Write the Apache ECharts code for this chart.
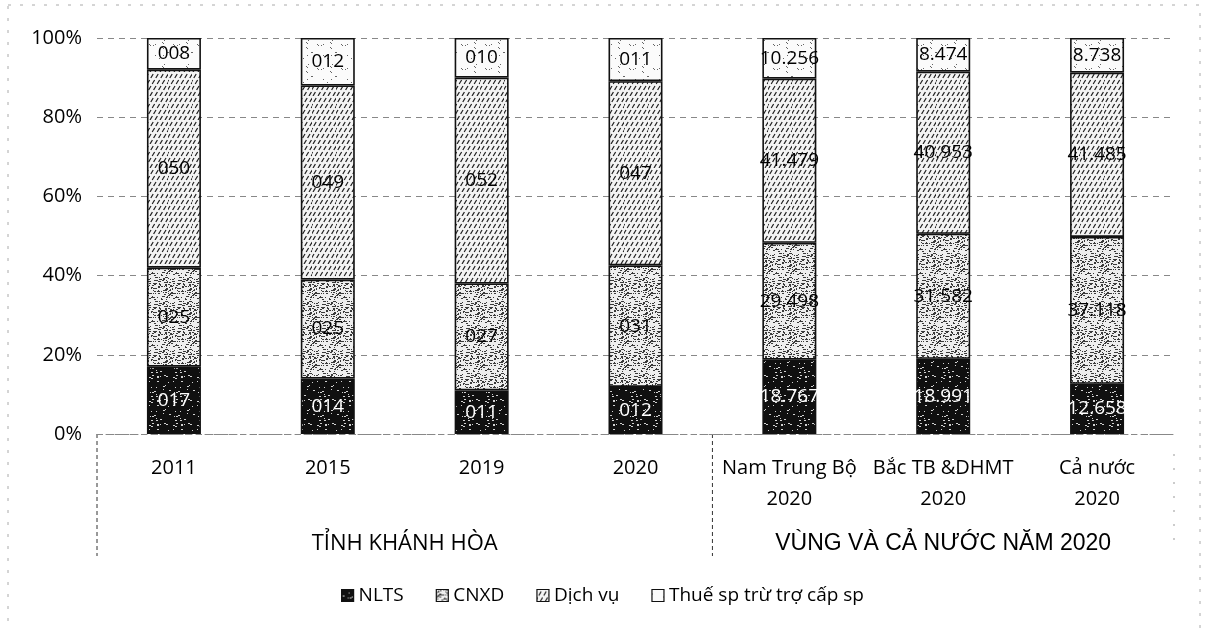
<!DOCTYPE html>
<html>
<head>
<meta charset="utf-8">
<script src="https://cdn.jsdelivr.net/npm/echarts@6/dist/echarts.min.js"></script>
<style>
  html, body { margin: 0; padding: 0; background: #fff; }
  #chart { width: 1205px; height: 629px; }
</style>
</head>
<body>
<div id="chart"></div>
<script>
const categories = ['2011', '2015', '2019', '2020', 'Nam Trung Bộ\n2020', 'Bắc TB &DHMT\n2020', 'Cả nước\n2020'];
const seriesNames = ['NLTS', 'CNXD', 'Dịch vụ', 'Thuế sp trừ trợ cấp sp'];

const nlts = [17, 14, 11, 12, 18.767, 18.991, 12.658];
const cnxd = [25, 25, 27, 31, 29.498, 31.582, 37.118];
const dichVu = [50, 49, 52, 47, 41.479, 40.953, 41.485];
const thue = [8, 12, 10, 11, 10.256, 8.474, 8.738];

const nltsLabels = ['017', '014', '011', '012', '18.767', '18.991', '12.658'];
const cnxdLabels = ['025', '025', '027', '031', '29.498', '31.582', '37.118'];
const dichVuLabels = ['050', '049', '052', '047', '41.479', '40.953', '41.485'];
const thueLabels = ['008', '012', '010', '011', '10.256', '8.474', '8.738'];

const groups = [
    { name: 'TỈNH KHÁNH HÒA', from: 0, to: 4 },
    { name: 'VÙNG VÀ CẢ NƯỚC NĂM 2020', from: 4, to: 7 }
];

const FONT = "'Open Sans', 'Noto Sans', sans-serif";

// simple seeded noise so the textures look the same each run
let seed = 7;
function rnd() {
    seed = (seed * 16807) % 2147483647;
    return seed / 2147483647;
}

function makePattern(kind) {
    const c = document.createElement('canvas');
    c.width = 24;
    c.height = 24;
    const g = c.getContext('2d');
    if (kind === 'dark') {
        g.fillStyle = '#101010';
        g.fillRect(0, 0, 24, 24);
        g.fillStyle = '#d0d0d0';
        for (let i = 0; i < 24; i++) g.fillRect(Math.floor(rnd() * 24), Math.floor(rnd() * 24), 1 + Math.floor(rnd() * 2), 1);
    } else if (kind === 'speckle') {
        g.fillStyle = '#eeeeee';
        g.fillRect(0, 0, 24, 24);
        g.fillStyle = '#3a3a3a';
        for (let i = 0; i < 120; i++) g.fillRect(Math.floor(rnd() * 24), Math.floor(rnd() * 24), 1 + Math.floor(rnd() * 2), 1);
    } else if (kind === 'hatch') {
        g.fillStyle = '#f4f4f4';
        g.fillRect(0, 0, 24, 24);
        g.strokeStyle = '#1e1e1e';
        g.lineWidth = 1.2;
        for (let k = -24; k < 48; k += 5) {
            for (let s = 0; s < 24; s += 6) {
                g.beginPath();
                g.moveTo(k + s * 0.6, 24 - s);
                g.lineTo(k + s * 0.6 + 2.4, 24 - s - 4);
                g.stroke();
            }
        }
    } else {
        g.fillStyle = '#fbfbfb';
        g.fillRect(0, 0, 24, 24);
        g.fillStyle = '#666';
        for (let i = 0; i < 14; i++) g.fillRect(Math.floor(rnd() * 24), Math.floor(rnd() * 24), 1, 1);
    }
    return { image: c, repeat: 'repeat' };
}

const valueLists = [nlts, cnxd, dichVu, thue];
const labelLists = [nltsLabels, cnxdLabels, dichVuLabels, thueLabels];
const patterns = [makePattern('dark'), makePattern('speckle'), makePattern('hatch'), makePattern('light')];

const totals = categories.map((_, i) => valueLists.reduce((s, arr) => s + arr[i], 0));

const series = seriesNames.map((name, si) => ({
    name: name,
    type: 'bar',
    stack: 'total',
    barWidth: 54,
    data: valueLists[si].map((v, i) => (v / totals[i]) * 100),
    itemStyle: { color: patterns[si], borderColor: '#111', borderWidth: 1.6 },
    label: {
        show: true,
        position: 'inside',
        formatter: (p) => labelLists[si][p.dataIndex],
        color: si === 0 ? '#fff' : '#000',
        fontFamily: FONT,
        fontSize: 19
    },
    emphasis: { disabled: true }
}));

const chart = echarts.init(document.getElementById('chart'), null, { renderer: 'canvas' });

chart.setOption({
    animation: false,
    backgroundColor: '#fff',
    grid: { left: 97, right: 31, top: 38, bottom: 195, containLabel: false },
    legend: {
        bottom: 19,
        left: 'center',
        icon: 'rect',
        itemWidth: 12,
        itemHeight: 12,
        itemGap: 32,
        textStyle: { fontFamily: FONT, fontSize: 19, color: '#000' },
        itemStyle: { borderColor: '#111', borderWidth: 1.2 },
        data: seriesNames
    },
    xAxis: {
        type: 'category',
        data: categories,
        axisLine: { lineStyle: { color: '#888', type: [5, 4] } },
        axisTick: { show: false },
        axisLabel: {
            margin: 19,
            color: '#000',
            fontFamily: FONT,
            fontSize: 20,
            lineHeight: 31,
            interval: 0
        }
    },
    yAxis: {
        type: 'value',
        min: 0,
        max: 100,
        interval: 20,
        axisLine: { show: false },
        axisTick: { show: false },
        axisLabel: { formatter: '{value}%', color: '#000', fontFamily: FONT, fontSize: 20, margin: 15 },
        splitLine: { lineStyle: { color: '#888', type: [6, 5], width: 1 } }
    },
    series: series
});

// group captions, separators and the scanned frame
const yBase = chart.convertToPixel({ yAxisIndex: 0 }, 0);
const step = chart.convertToPixel({ xAxisIndex: 0 }, categories[1]) - chart.convertToPixel({ xAxisIndex: 0 }, categories[0]);
const x0 = chart.convertToPixel({ xAxisIndex: 0 }, categories[0]) - step / 2;
const graphics = [
    {
        type: 'rect',
        shape: { x: 8, y: 5, width: 1192, height: 640 },
        style: { fill: 'none', stroke: '#aaa', lineWidth: 1, lineDash: [3, 9] }
    }
];
groups.forEach((grp, gi) => {
    const left = x0 + grp.from * step;
    const right = x0 + grp.to * step;
    graphics.push({
        type: 'text',
        x: (left + right) / 2,
        y: yBase + 110,
        style: {
            text: grp.name,
            fill: '#000',
            font: gi === 0 ? "22px 'Open Sans', sans-serif" : "23px 'Liberation Sans', Arial, sans-serif",
            textAlign: 'center',
            textVerticalAlign: 'middle'
        }
    });
    graphics.push({
        type: 'line',
        shape: { x1: left, y1: yBase, x2: left, y2: yBase + 122 },
        style: { stroke: '#333', lineWidth: 1, lineDash: [4, 3] }
    });
});
graphics.push({
    type: 'line',
    shape: { x1: x0 + categories.length * step, y1: yBase + 20, x2: x0 + categories.length * step, y2: yBase + 110 },
    style: { stroke: '#999', lineWidth: 1, lineDash: [2, 12] }
});
chart.setOption({ graphic: graphics });
</script>
</body>
</html>
